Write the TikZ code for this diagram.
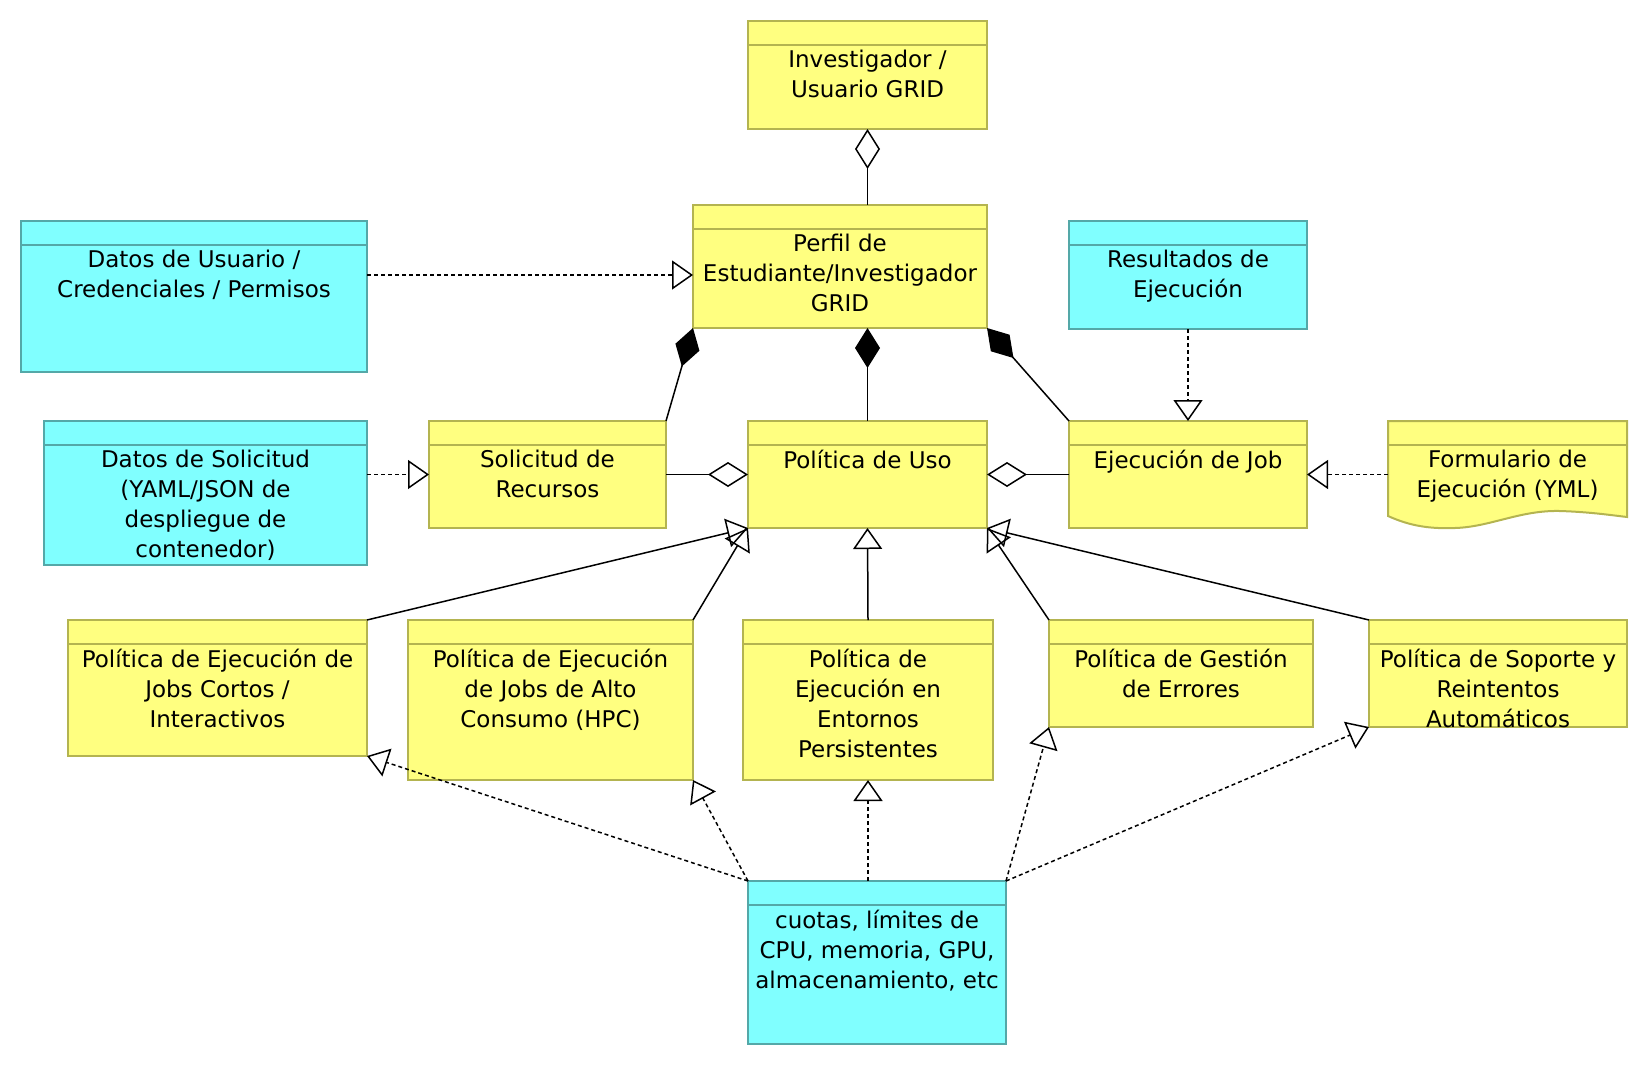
\documentclass[tikz,border=0pt]{standalone}
\usepackage{fontspec}
\setmainfont{DejaVu Sans}
\usetikzlibrary{arrows.meta,positioning}

\definecolor{umlyellow}{RGB}{255,255,128}
\definecolor{umlyellowline}{RGB}{180,180,80}
\definecolor{umlcyan}{RGB}{128,255,255}
\definecolor{umlcyanline}{RGB}{84,168,168}

\begin{document}
\begin{tikzpicture}[x=0.5pt, y=-0.5pt,
    umlbox/.style={draw=#1line, fill=#1, line width=1pt, anchor=north west, inner sep=0pt, outer sep=0pt,
        path picture={\draw[#1line, line width=1pt] ([yshift=-12pt]path picture bounding box.north west) -- ([yshift=-12pt]path picture bounding box.north east);}},
    txt/.style={font=\fontsize{11.5pt}{15pt}\selectfont, align=center, inner sep=0pt},
    comp/.style={line width=0.75pt, {Diamond[length=20pt,width=12.5pt]}-},
    agg/.style={line width=0.75pt, {Diamond[open,length=20pt,width=12.5pt]}-},
    gen/.style={line width=0.75pt, -{Triangle[open,length=10.5pt,width=14.5pt]}},
    real/.style={gen, dash pattern=on 2pt off 1.5pt}]
        \useasboundingbox (0,0) rectangle (1648,1066);

        \node[umlbox=umlyellow, minimum width=119.5pt, minimum height=54pt] (inv) at (748,21) {};
        \node[umlbox=umlyellow, minimum width=147pt, minimum height=61.5pt] (perfil) at (693,205) {};
        \node[umlbox=umlcyan, minimum width=173pt, minimum height=75.5pt] (datosusr) at (21,221) {};
        \node[umlbox=umlcyan, minimum width=119pt, minimum height=54pt] (result) at (1069,221) {};
        \node[umlbox=umlcyan, minimum width=161.5pt, minimum height=72pt] (datossol) at (44,421) {};
        \node[umlbox=umlyellow, minimum width=118.5pt, minimum height=53.5pt] (sol) at (429,421) {};
        \node[umlbox=umlyellow, minimum width=119.5pt, minimum height=53.5pt] (uso) at (748,421) {};
        \node[umlbox=umlyellow, minimum width=119pt, minimum height=53.5pt] (job) at (1069,421) {};
        \node[umlbox=umlyellow, minimum width=149.5pt, minimum height=68pt] (pcortos) at (68,620) {};
        \node[umlbox=umlyellow, minimum width=142.5pt, minimum height=80pt] (phpc) at (408,620) {};
        \node[umlbox=umlyellow, minimum width=125pt, minimum height=80pt] (ppers) at (743,620) {};
        \node[umlbox=umlyellow, minimum width=132pt, minimum height=53.5pt] (perr) at (1049,620) {};
        \node[umlbox=umlyellow, minimum width=129pt, minimum height=53.5pt] (psop) at (1369,620) {};
        \node[umlbox=umlcyan, minimum width=129pt, minimum height=81.5pt] (cuotas) at (748,881) {};

        \filldraw[fill=umlyellow, draw=umlyellowline, line width=1pt] (1388,421) -- (1627,421) -- (1627,517)
            .. controls (1610,515) and (1590,512) .. (1560,511)
            .. controls (1520,510) and (1490,527) .. (1455,528)
            .. controls (1430,529) and (1410,526) .. (1388,516) -- cycle;
        \node[anchor=north west, inner sep=0pt, outer sep=0pt, minimum width=119.5pt, minimum height=53.5pt] (form) at (1388,421) {};
        \draw[umlyellowline, line width=1pt] ([yshift=-12pt]form.north west) -- ([yshift=-12pt]form.north east);

        \node[txt, below=14.5pt of inv.north] (invtxt) {Investigador /\\Usuario GRID};
        \node[txt, below=14.5pt of perfil.north] (perfiltxt) {Perfil de\\Estudiante/Investigador\\GRID};
        \node[txt, below=14.5pt of datosusr.north] (datosusrtxt) {Datos de Usuario /\\Credenciales / Permisos};
        \node[txt, below=14.5pt of result.north] (resulttxt) {Resultados de\\Ejecución};
        \node[txt, below=14.5pt of datossol.north] (datossoltxt) {Datos de Solicitud\\(YAML/JSON de\\despliegue de\\contenedor)};
        \node[txt, below=14.5pt of sol.north] (soltxt) {Solicitud de\\Recursos};
        \node[txt, below=14.5pt of uso.north] (usotxt) {Política de Uso};
        \node[txt, below=14.5pt of job.north] (jobtxt) {Ejecución de Job};
        \node[txt, below=14.5pt of form.north] (formtxt) {Formulario de\\Ejecución (YML)};
        \node[txt, below=14.5pt of pcortos.north] (pcortostxt) {Política de Ejecución de\\Jobs Cortos /\\Interactivos};
        \node[txt, below=14.5pt of phpc.north] (phpctxt) {Política de Ejecución\\de Jobs de Alto\\Consumo (HPC)};
        \node[txt, below=14.5pt of ppers.north] (ppperstxt) {Política de\\Ejecución en\\Entornos\\Persistentes};
        \node[txt, below=14.5pt of perr.north] (perrtxt) {Política de Gestión\\de Errores};
        \node[txt, below=14.5pt of psop.north] (psoptxt) {Política de Soporte y\\Reintentos\\Automáticos};
        \node[txt, below=14.5pt of cuotas.north] (cuotastxt) {cuotas, límites de\\CPU, memoria, GPU,\\almacenamiento, etc};

        \coordinate (usrlink) at (0,275);

        \draw[agg] (inv.south) -- (inv.south |- perfil.north);
        \draw[comp] (perfil.south west) -- (sol.north east);
        \draw[comp] (uso.north |- perfil.south) -- (uso.north);
        \draw[comp] (perfil.south east) -- (job.north west);
        \draw[agg] (uso.west) -- (sol.east);
        \draw[agg] (uso.east) -- (job.west);

        \draw[real] (datosusr.east |- usrlink) -- (perfil.west |- usrlink);
        \draw[real] (datossol.east |- sol.west) -- (sol.west);
        \draw[real] (result.south) -- (job.north);
        \draw[real] (form.west) -- (job.east |- form.west);

        \draw[gen] (pcortos.north east) -- (uso.south west);
        \draw[gen] (phpc.north east) -- (uso.south west);
        \draw[gen] (ppers.north) -- (uso.south);
        \draw[gen] (perr.north west) -- (uso.south east);
        \draw[gen] (psop.north west) -- (uso.south east);

        \draw[real] (cuotas.north west) -- (pcortos.south east);
        \draw[real] (cuotas.north west) -- (phpc.south east);
        \draw[real] (ppers.south |- cuotas.north) -- (ppers.south);
        \draw[real] (cuotas.north east) -- (perr.south west);
        \draw[real] (cuotas.north east) -- (psop.south west);
\end{tikzpicture}
\end{document}
